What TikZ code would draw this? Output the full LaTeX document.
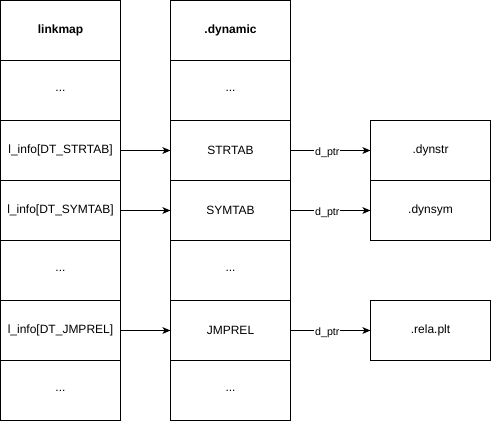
\documentclass[tikz,border=0pt]{standalone}
\usepackage{fontspec}
\setmainfont{Liberation Sans}
\usetikzlibrary{arrows.meta}
\begin{document}
\begin{tikzpicture}[x=0.75pt,y=-0.75pt,
  cell/.style={draw=black,line width=0.9pt,minimum width=90pt,minimum height=45pt,inner sep=0pt,outer sep=0pt,anchor=north west,font=\fontsize{9pt}{11pt}\selectfont},
  head/.style={cell,font=\fontsize{9pt}{11pt}\selectfont\bfseries},
  arr/.style={line width=0.9pt,-{Stealth[length=6pt,width=5pt,inset=1.5pt]}},
  lab/.style={font=\fontsize{8pt}{10pt}\selectfont,fill=white,inner sep=0.5pt}]
\useasboundingbox (0,0) rectangle (491,421);
% left column
\node[head] (l0) at (0.5,0.5) {linkmap};
\node[cell] (l1) at (0.5,60.5) {...};
\node[cell] (l2) at (0.5,120.5) {l\_info[DT\_STRTAB]};
\node[cell] (l3) at (0.5,180.5) {l\_info[DT\_SYMTAB]};
\node[cell] (l4) at (0.5,240.5) {...};
\node[cell] (l5) at (0.5,300.5) {l\_info[DT\_JMPREL]};
\node[cell] (l6) at (0.5,360.5) {...};
% middle column
\node[head] (m0) at (170.5,0.5) {.dynamic};
\node[cell] (m1) at (170.5,60.5) {...};
\node[cell] (m2) at (170.5,120.5) {STRTAB};
\node[cell] (m3) at (170.5,180.5) {SYMTAB};
\node[cell] (m4) at (170.5,240.5) {...};
\node[cell] (m5) at (170.5,300.5) {JMPREL};
\node[cell] (m6) at (170.5,360.5) {...};
% right boxes
\node[cell] (r2) at (370.5,120.5) {.dynstr};
\node[cell] (r3) at (370.5,180.5) {.dynsym};
\node[cell] (r5) at (370.5,300.5) {.rela.plt};
% arrows
\draw[arr] (l2.east) -- (m2.west);
\draw[arr] (l3.east) -- (m3.west);
\draw[arr] (l5.east) -- (m5.west);
\draw[arr] (m2.east) -- node[lab,pos=0.46,yshift=-1.5pt] {d\_ptr} (r2.west);
\draw[arr] (m3.east) -- node[lab,pos=0.46,yshift=-1.5pt] {d\_ptr} (r3.west);
\draw[arr] (m5.east) -- node[lab,pos=0.46,yshift=-1.5pt] {d\_ptr} (r5.west);
\end{tikzpicture}
\end{document}
